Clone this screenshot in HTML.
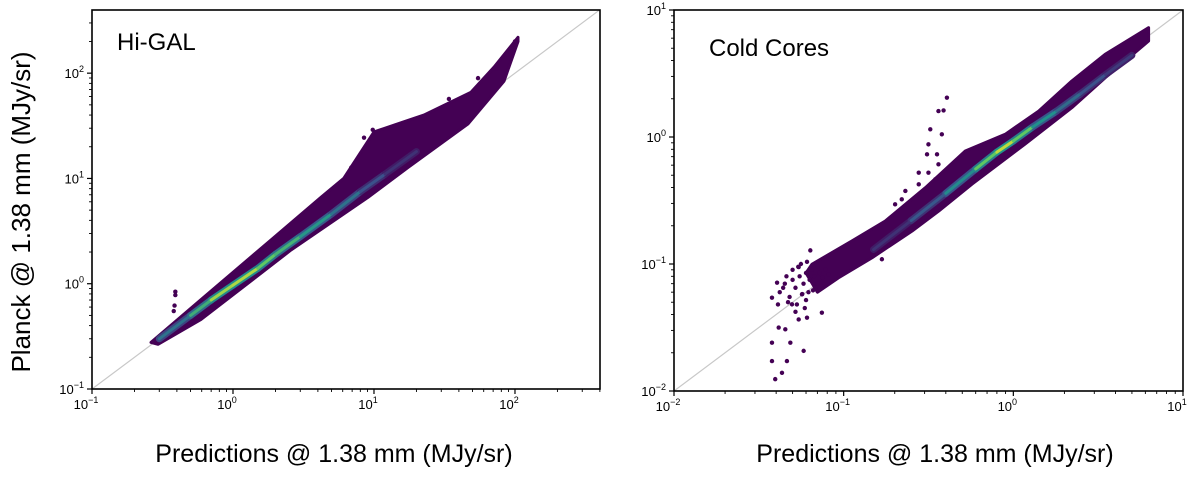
<!DOCTYPE html>
<html><head><meta charset="utf-8"><style>
html,body{margin:0;padding:0;background:#fff}
svg{display:block}
text{font-family:"Liberation Sans",sans-serif;fill:#000}
</style></head><body>
<svg id="fig" width="1200" height="477" viewBox="0 0 1200 477" xmlns="http://www.w3.org/2000/svg">
<text x="0" y="0" transform="translate(30,212) rotate(-90)" text-anchor="middle" font-size="26">Planck @ 1.38 mm (MJy/sr)</text>
<text x="334" y="462" text-anchor="middle" font-size="25">Predictions @ 1.38 mm (MJy/sr)</text>
<text x="935" y="462" text-anchor="middle" font-size="25">Predictions @ 1.38 mm (MJy/sr)</text>
</svg>
<script>
// ---- Hi-GAL data ----
const hgUpperX=[0.262,0.593,1.86,4.2,6.1,10,16.3,22.6,48.8,71,105];
const hgUpperY=[0.277,0.706,2.6,6.6,10,27.7,34.5,40,66,114,219];
const hgLowerX=[0.294,0.593,2.58,9.06,17.4,46.4,83.6,105];
const hgLowerY=[0.266,0.457,2.09,6.6,12.7,33,84,200];
const hgRidgeX=[0.3,0.5,0.7,1,1.5,2,3,5,8,12,20];
const hgRidgeY=[0.3,0.5,0.7,0.97,1.4,1.9,2.8,4.6,7.5,11,18];
const hgRidgeD=[0.25,0.5,0.75,0.95,0.8,0.7,0.6,0.45,0.3,0.2,0.1];
const hgOutX=[0.39,0.39,0.385,0.38,8.5,9.8,6.9,22.6,34,54.7,73,97,100,88];
const hgOutY=[0.84,0.78,0.62,0.55,24.4,29,12.7,37.6,56.9,89.7,110,172,200,150];
// ---- Cold Cores data ----
const ccUpperX=[0.06,0.065,0.112,0.176,0.303,0.521,0.896,1.41,2.21,3.48,6.27];
const ccUpperY=[0.085,0.0995,0.152,0.218,0.399,0.776,1.05,1.60,2.76,4.48,7.26];
const ccLowerX=[0.07,0.0933,0.147,0.253,0.363,0.57,1.17,2.21,3.48,6.27];
const ccLowerY=[0.06,0.078,0.112,0.182,0.261,0.425,0.877,1.70,2.93,5.70];
const ccRidgeX=[0.15,0.25,0.4,0.6,0.8,1.0,1.3,1.8,2.5,3.5,5];
const ccRidgeY=[0.13,0.22,0.36,0.56,0.76,0.93,1.2,1.6,2.2,3.1,4.4];
const ccRidgeD=[0.1,0.2,0.35,0.6,0.9,0.9,0.6,0.4,0.3,0.2,0.15];
const ccOutX=[0.0378,0.0405,0.0636,0.0608,0.0543,0.0744,0.0581,0.0485,0.0463,0.0378,0.0395,0.0433,0.0378,0.0414,0.0453,0.0543,0.0608,0.0496,0.0568,0.068,0.0815,0.362,0.406,0.388,0.324,0.379,0.316,0.31,0.355,0.277,0.316,0.277,0.231,0.22,0.201,0.362,0.347,0.168,
 0.042,0.045,0.048,0.05,0.052,0.055,0.058,0.06,0.062,0.065,0.047,0.053,0.057,0.063,0.067,0.07,0.072,0.044,0.05,0.056,0.06,0.066,0.075,0.078,0.046,0.054,0.059,0.07,0.052,0.041];
const ccOutY=[0.0543,0.0713,0.128,0.104,0.0946,0.0414,0.0207,0.024,0.0172,0.0172,0.0124,0.0139,0.024,0.0316,0.0306,0.0366,0.0378,0.0481,0.0577,0.0652,0.083,1.60,2.04,1.62,1.15,1.05,0.875,0.73,0.73,0.524,0.524,0.424,0.376,0.323,0.295,0.61,0.464,0.109,
 0.06,0.07,0.055,0.075,0.065,0.08,0.07,0.085,0.06,0.09,0.05,0.048,0.058,0.075,0.08,0.07,0.085,0.065,0.09,0.1,0.052,0.062,0.078,0.09,0.08,0.095,0.045,0.095,0.042,0.048];
const hgXTicks=[-1,0,1,2], hgYTicks=[-1,0,1,2];
const ccXTicks=[-2,-1,0,1], ccYTicks=[-2,-1,0,1];

const NS="http://www.w3.org/2000/svg";
const svg=document.getElementById('fig');
function mk(tag,attrs,parent){const e=document.createElementNS(NS,tag);for(const k in attrs)e.setAttribute(k,attrs[k]);(parent||svg).appendChild(e);return e;}
const VIR=[[68,1,84],[59,82,139],[33,145,140],[94,201,98],[253,231,37]];
function vir(t){t=Math.max(0,Math.min(1,t))*4;const i=Math.min(3,Math.floor(t)),f=t-i;const a=VIR[i],b=VIR[i+1];return 'rgb('+a.map((v,k)=>Math.round(v+(b[k]-v)*f)).join(',')+')';}

function panel(cfg){
  const {x0,x1,y0,y1,lxmin,lxmax,lymin,lymax,name}=cfg;
  const sx=v=>x0+(Math.log10(v)-lxmin)/(lxmax-lxmin)*(x1-x0);
  const sy=v=>y0-(Math.log10(v)-lymin)/(lymax-lymin)*(y0-y1);
  const g=mk('g',{});
  
  
  const clipId=name+'-clip';
  const cp=mk('clipPath',{id:clipId},g);mk('rect',{x:x0,y:y1,width:x1-x0,height:y0-y1},cp);
  const inner=mk('g',{'clip-path':'url(#'+clipId+')'},g);
  const lo=Math.min(lxmin,lymin),hi=Math.max(lxmax,lymax);
  const idl=mk('line',{x1:sx(Math.pow(10,lo)),y1:sy(Math.pow(10,lo)),x2:sx(Math.pow(10,hi)),y2:sy(Math.pow(10,hi)),stroke:'#c8c8c8','stroke-width':1.2},inner);
  
  
  let pts=[];
  cfg.ux.forEach((v,i)=>pts.push(sx(v).toFixed(1)+','+sy(cfg.uy[i]).toFixed(1)));
  for(let i=cfg.lx.length-1;i>=0;i--)pts.push(sx(cfg.lx[i]).toFixed(1)+','+sy(cfg.ly[i]).toFixed(1));
  const band=mk('polygon',{points:pts.join(' '),fill:'#440154',stroke:'#440154','stroke-width':3,'stroke-linejoin':'round'},inner);
  
  
  for(let i=0;i<cfg.rx.length-1;i++){
    const d=(cfg.rd[i]+cfg.rd[i+1])/2;
    const s=mk('line',{x1:sx(cfg.rx[i]),y1:sy(cfg.ry[i]),x2:sx(cfg.rx[i+1]),y2:sy(cfg.ry[i+1]),stroke:vir(d*0.55),'stroke-width':7,'stroke-linecap':'round'},inner);
    
    
  }
  for(let i=0;i<cfg.rx.length-1;i++){
    const d=(cfg.rd[i]+cfg.rd[i+1])/2;
    const s=mk('line',{x1:sx(cfg.rx[i]),y1:sy(cfg.ry[i]),x2:sx(cfg.rx[i+1]),y2:sy(cfg.ry[i+1]),stroke:vir(d),'stroke-width':3,'stroke-linecap':'round'},inner);
    
    
  }
  cfg.ox.forEach((v,i)=>{
    const c=mk('circle',{cx:sx(v),cy:sy(cfg.oy[i]),r:2.2,fill:'#440154'},inner);
    
    
  });
  const fr=mk('rect',{x:x0,y:y1,width:x1-x0,height:y0-y1,fill:'none',stroke:'#000','stroke-width':1.6},g);
  
  
  for(let d=Math.floor(lxmin);d<=Math.ceil(lxmax);d++){
    for(let m=1;m<10;m++){const v=m*Math.pow(10,d);const lv=Math.log10(v);if(lv<lxmin-1e-6||lv>lxmax+1e-6)continue;
      const px=sx(v);mk('line',{x1:px,y1:y0,x2:px,y2:y0+(m==1?5:3),stroke:'#000','stroke-width':m==1?1.2:0.9},g);}
  }
  for(let d=Math.floor(lymin);d<=Math.ceil(lymax);d++){
    for(let m=1;m<10;m++){const v=m*Math.pow(10,d);const lv=Math.log10(v);if(lv<lymin-1e-6||lv>lymax+1e-6)continue;
      const py=sy(v);mk('line',{x1:x0,y1:py,x2:x0-(m==1?5:3),y2:py,stroke:'#000','stroke-width':m==1?1.2:0.9},g);}
  }
  cfg.xt.forEach(e=>{
    const t=mk('text',{x:sx(Math.pow(10,e))-6,y:y0+20,'text-anchor':'middle','font-size':13},g);
    
    
    t.textContent='10';
    const s=mk('tspan',{dy:-6,'font-size':9},t);s.textContent=(e<0?'\u2212'+(-e):''+e);
  });
  cfg.yt.forEach(e=>{
    const t=mk('text',{x:x0-8,y:sy(Math.pow(10,e))+5,'text-anchor':'end','font-size':13},g);
    
    
    t.textContent='10';
    const s=mk('tspan',{dy:-6,'font-size':9},t);s.textContent=(e<0?'\u2212'+(-e):''+e);
  });
  const lab=mk('text',{x:cfg.labX,y:cfg.labY,'font-size':24},g);
  
  
  lab.textContent=cfg.label;
}
panel({name:'hi-gal',x0:92,x1:600,y0:389,y1:10,lxmin:-1,lxmax:2.603,lymin:-1,lymax:2.6,
  ux:hgUpperX,uy:hgUpperY,lx:hgLowerX,ly:hgLowerY,rx:hgRidgeX,ry:hgRidgeY,rd:hgRidgeD,ox:hgOutX,oy:hgOutY,
  xt:hgXTicks,yt:hgYTicks,label:'Hi-GAL',labX:117,labY:50});
panel({name:'cold-cores',x0:674,x1:1183,y0:391,y1:10,lxmin:-2,lxmax:1,lymin:-2,lymax:1,
  ux:ccUpperX,uy:ccUpperY,lx:ccLowerX,ly:ccLowerY,rx:ccRidgeX,ry:ccRidgeY,rd:ccRidgeD,ox:ccOutX,oy:ccOutY,
  xt:ccXTicks,yt:ccYTicks,label:'Cold Cores',labX:709,labY:56});
</script>
</body></html>
